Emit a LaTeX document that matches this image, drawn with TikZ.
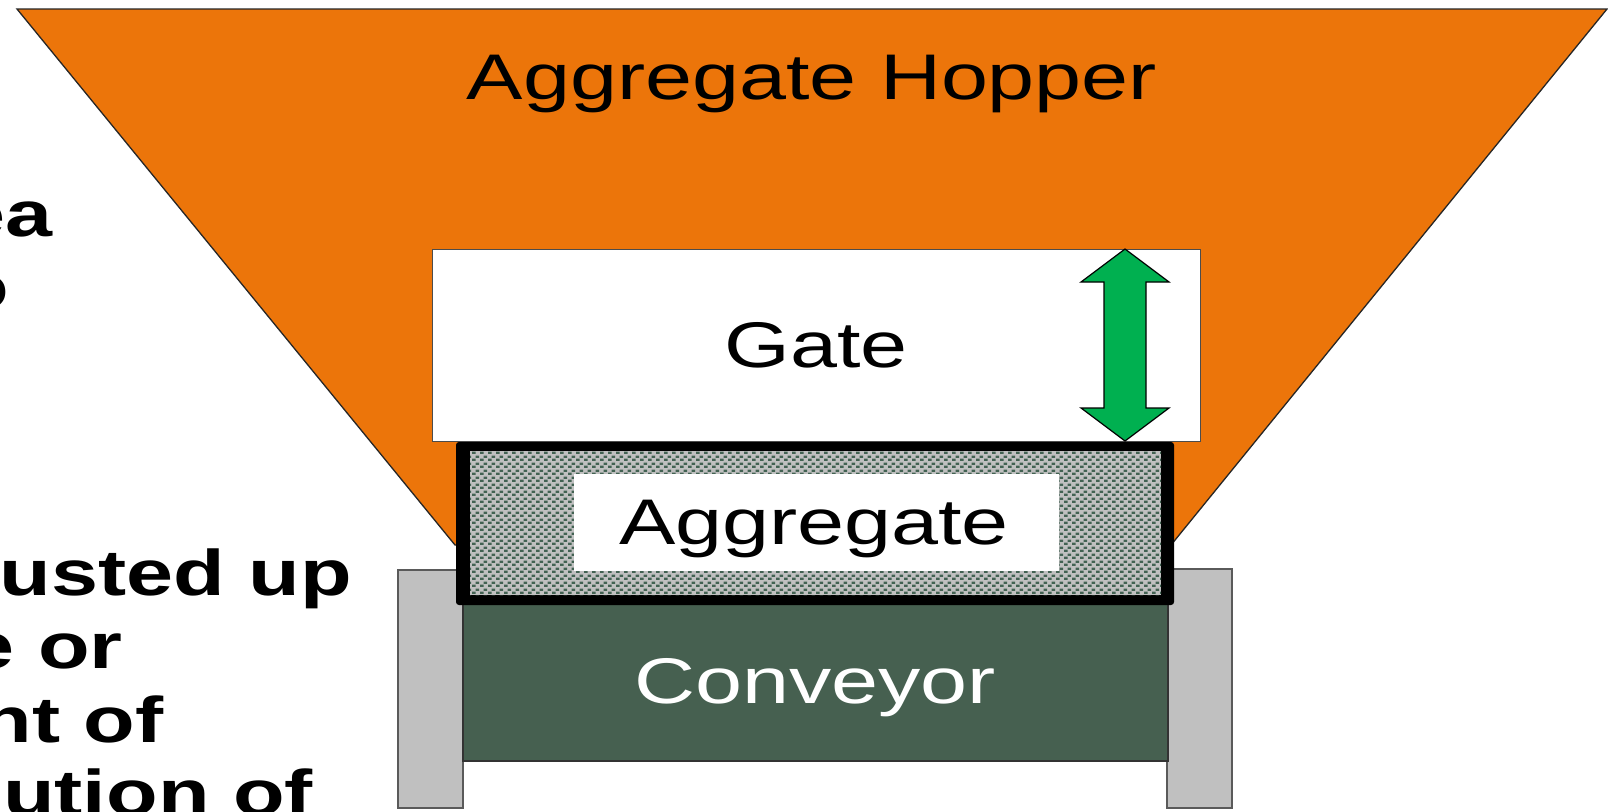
\documentclass[tikz,border=0pt]{standalone}
\usepackage{fontspec}
\usepackage{graphicx}
\setmainfont{Liberation Sans}
\usetikzlibrary{patterns}

\definecolor{hopperorange}{RGB}{236,117,10}
\definecolor{gategreen}{RGB}{0,176,80}
\definecolor{convgreen}{RGB}{70,96,80}
\definecolor{dotgreen}{RGB}{66,98,82}
\definecolor{postgrey}{RGB}{192,192,192}
\definecolor{edgegrey}{RGB}{90,90,90}

% small staggered flecks for the aggregate fill
\pgfdeclarepatternformonly{aggflecks}{\pgfqpoint{0pt}{0pt}}{\pgfqpoint{8pt}{7pt}}{\pgfqpoint{8pt}{7pt}}{%
  \pgfpathrectangle{\pgfqpoint{0pt}{0pt}}{\pgfqpoint{4pt}{2.6pt}}%
  \pgfpathrectangle{\pgfqpoint{4pt}{3.5pt}}{\pgfqpoint{4pt}{2.6pt}}%
  \pgfusepath{fill}}

\newcommand{\widetext}[1]{\scalebox{1.31}[1]{#1}}

\tikzset{
  label/.style={inner sep=0pt, anchor=base, font=\fontsize{64.5}{77}\selectfont},
  sidetext/.style={inner sep=0pt, anchor=base east, font=\fontsize{64.5}{77}\selectfont\bfseries},
  hopper/.style={fill=hopperorange, draw=black!85, line width=1.3pt, line join=miter},
  post/.style={fill=postgrey, draw=edgegrey, line width=2pt},
}

\begin{document}
\begin{tikzpicture}[x=1pt,y=-1pt]
\useasboundingbox (0,0) rectangle (1608,811);
\clip (0,0) rectangle (1608,811);
\fill[white] (0,0) rectangle (1608,811);

% hopper
\draw[hopper] (17,9) -- (1607,9) -- (1171,545) -- (455,545) -- cycle;
\node[label] (hoptext) at (812,99) {\widetext{Aggregate Hopper}};

% gate with its travel arrow
\draw[fill=white, draw=black!70, line width=1pt] (432,249) rectangle (1200,441);
\node[label] (gatetext) at (816,367) {\widetext{Gate}};
\draw[fill=gategreen, draw=black, line width=1.2pt, line join=miter]
  (1125,249) -- (1169,282) -- (1146,282) -- (1146,408) -- (1169,408) -- (1125,441)
  -- (1081,408) -- (1104,408) -- (1104,282) -- (1081,282) -- cycle;

% conveyor frame posts
\draw[post] (398,570) rectangle (463,808);
\draw[post] (1167,569) rectangle (1232,808);

% conveyor belt
\draw[fill=convgreen, draw=black!80, line width=1.2pt] (463,598) rectangle (1168,761);
\node[label, text=white] (convtext) at (815,703) {\widetext{Conveyor}};

% aggregate layer
\fill[black, rounded corners=3pt] (456,442) rectangle (1174,605);
\fill[postgrey] (470,451) rectangle (1161,595);
\fill[pattern=aggflecks, pattern color=dotgreen] (470,451) rectangle (1161,595);
\fill[white] (574,474) rectangle (1059,571);
\node[label] (aggtext) at (814,544) {\widetext{Aggregate}};

% side notes running off the left edge
\node[sidetext] (noteA) at (53,236) {\widetext{ea}};
\node[sidetext] (noteB) at (9,309) {\widetext{o}};
\node[sidetext] (noteC) at (352,595) {\widetext{usted up}};
\node[sidetext] (noteD) at (123,668) {\widetext{e or}};
\node[sidetext] (noteE) at (164,742) {\widetext{nt of}};
\node[sidetext] (noteF) at (313,815) {\widetext{ution of}};
\end{tikzpicture}
\end{document}
